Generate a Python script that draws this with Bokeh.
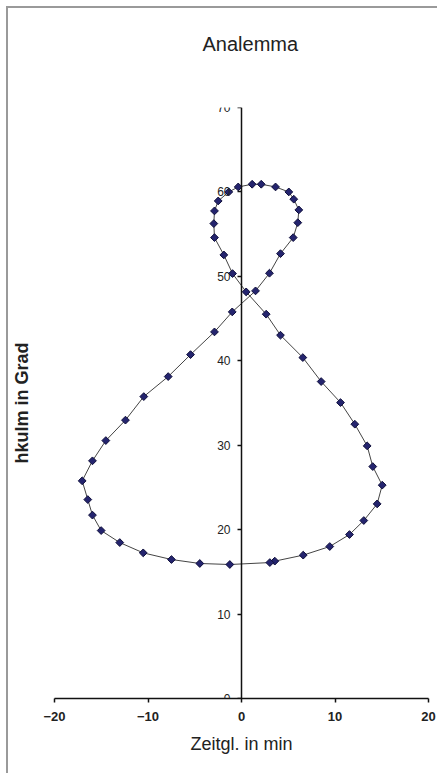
import math
from bokeh.plotting import figure
from bokeh.models import Range1d, FixedTicker, Title
from bokeh.embed import file_html
from bokeh.resources import INLINE

# Equation of time (min) and culmination altitude (deg), weekly values
zeitgl = [3.56, 6.60, 9.44, 11.55, 13.08, 14.51, 15.05, 14.04, 13.44, 12.12,
          10.59, 8.52, 6.56, 4.17, 2.64, 0.50, -0.96, -1.89, -2.89, -2.96,
          -2.89, -2.49, -1.36, -0.35, 1.14, 2.11, 3.64, 5.06, 5.59, 6.13,
          6.02, 5.53, 4.17, 2.99, 1.50, -0.99, -2.89, -5.45, -7.84, -10.45,
          -12.41, -14.51, -15.94, -17.04, -16.44, -15.94, -15.01, -13.02, -10.51, -7.49,
          -4.46, -1.25, 3.03]
hkulm = [16.27, 16.98, 18.00, 19.42, 21.08, 23.05, 25.27, 27.47, 29.92, 32.49,
         35.05, 37.54, 40.38, 43.03, 45.52, 48.16, 50.33, 52.54, 54.59, 56.25,
         57.75, 58.93, 60.00, 60.59, 60.91, 60.91, 60.59, 60.00, 59.14, 57.87,
         56.36, 54.59, 52.69, 50.37, 48.28, 45.79, 43.42, 40.73, 38.13, 35.76,
         32.97, 30.55, 28.15, 25.78, 23.56, 21.72, 19.89, 18.47, 17.25, 16.46,
         15.99, 15.87, 16.10]

x_ticks = [-20, -10, 0, 10, 20]
y_ticks = [0, 10, 20, 30, 40, 50, 60, 70]

FONT = "Liberation Sans"

p = figure(width=437, height=773, output_backend="svg", toolbar_location=None,
           x_range=Range1d(-20, 20), y_range=Range1d(0, 70),
           min_border_left=54, min_border_right=9, min_border_top=107, min_border_bottom=75)

p.border_fill_color = None
p.background_fill_color = None
p.styles = {
    "background": ("linear-gradient(#9a9a9a,#9a9a9a) 6px 6px / 2px calc(100% - 6px) no-repeat, "
                   "linear-gradient(#9a9a9a,#9a9a9a) 6px 6px / calc(100% - 6px) 2px no-repeat, white"),
}

p.xgrid.visible = False
p.ygrid.visible = False
p.outline_line_color = None
p.title.text = ""

# spacer + chart title above the frame
p.add_layout(Title(text=" ", text_font=FONT, text_font_size="10px", standoff=35), "above")
p.add_layout(Title(text="Analemma", align="left", offset=148, standoff=10,
                   text_font=FONT, text_font_size="20px", text_font_style="normal",
                   text_color="#222222"), "above")

# spacer + y axis title at the far left
p.add_layout(Title(text=" ", text_font=FONT, text_font_size="10px", standoff=5), "left")
p.add_layout(Title(text="hkulm in Grad", align="center", standoff=10,
                   text_font=FONT, text_font_size="18px", text_font_style="bold",
                   text_color="#222222"), "left")

# x axis
xa = p.xaxis[0]
xa.ticker = FixedTicker(ticks=x_ticks)
xa.axis_label = "Zeitgl. in min"
xa.axis_label_text_font = FONT
xa.axis_label_text_font_size = "18px"
xa.axis_label_text_font_style = "normal"
xa.axis_label_text_color = "#222222"
xa.axis_label_standoff = 10
xa.major_label_text_font = FONT
xa.major_label_text_font_size = "13px"
xa.major_label_text_font_style = "bold"
xa.major_label_text_color = "#222222"
xa.major_label_standoff = 9
xa.major_tick_out = 4
xa.major_tick_in = 0
xa.minor_tick_out = 0
xa.minor_tick_in = 0
xa.axis_line_width = 1.5
xa.axis_line_color = "#111111"
xa.major_tick_line_color = "#111111"
xa.major_tick_line_width = 1.5

# y axis crossing at x = 0
ya = p.yaxis[0]
ya.fixed_location = 0
ya.ticker = FixedTicker(ticks=y_ticks)
ya.major_label_text_font = FONT
ya.major_label_text_font_size = "12px"
ya.major_label_text_color = "#222222"
ya.major_label_standoff = 7
ya.major_tick_out = 4
ya.major_tick_in = 0
ya.minor_tick_out = 0
ya.minor_tick_in = 0
ya.axis_line_width = 1.5
ya.axis_line_color = "#111111"
ya.major_tick_line_color = "#111111"
ya.major_tick_line_width = 1.5

p.line(zeitgl, hkulm, line_color="#444444", line_width=1)
p.scatter(zeitgl, hkulm, marker="square", angle=math.pi / 4, size=5.5,
          fill_color="#24246e", line_color="#0e0e3a", line_width=1)

open("out.html", "w").write(file_html(p, INLINE))
